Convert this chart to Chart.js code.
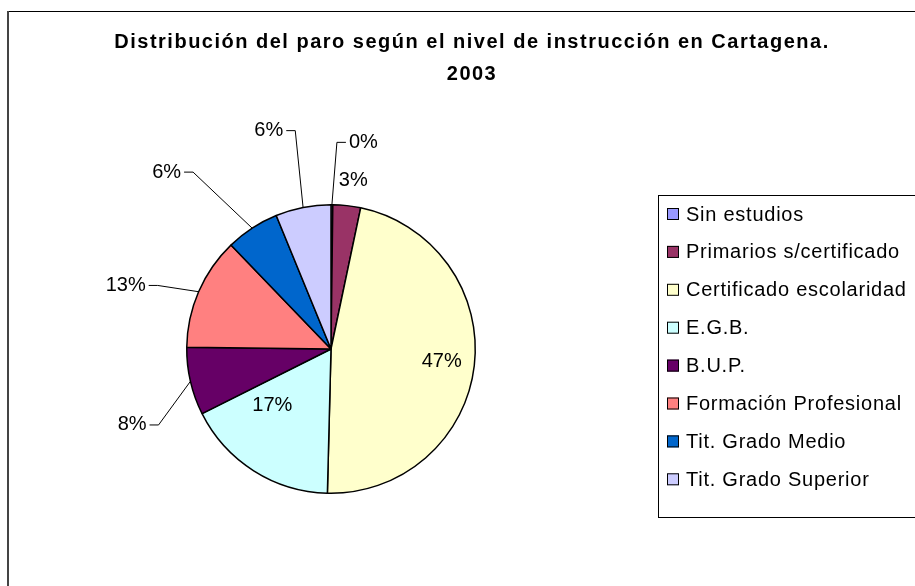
<!DOCTYPE html>
<html>
<head>
<meta charset="utf-8">
<script src="https://cdn.jsdelivr.net/npm/chart.js@4.4.0/dist/chart.umd.min.js"></script>
<style>
html, body { margin: 0; padding: 0; background: #fff; }
</style>
</head>
<body>
<canvas id="paroChart" width="915" height="586"></canvas>
<script>
var titleLines = ['Distribución del paro según el nivel de instrucción en Cartagena.', '2003'];
var niveles = ['Sin estudios', 'Primarios s/certificado', 'Certificado escolaridad', 'E.G.B.', 'B.U.P.', 'Formación Profesional', 'Tit. Grado Medio', 'Tit. Grado Superior'];
var porcentajes = [0.2, 3.1, 47.1, 17.2, 7.6, 12.6, 6.0, 6.2];
var colores = ['#9999FF', '#993366', '#FFFFCC', '#CCFFFF', '#660066', '#FF8080', '#0066CC', '#CCCCFF'];

// where each % label sits: angle (deg, clockwise from top) and distance as fraction of radius
var labelAngles = [8.9, 7.5, 96.5, 226.1, 249.1, 287.2, 317.1, 344.1];
var labelRadii = [1.45, 1.18, 0.772, 0.564, 1.476, 1.49, 1.674, 1.574];
var labelLeader = [true, false, false, false, true, true, true, true];

var FONT = '"Liberation Sans", Arial, sans-serif';

var decoPlugin = {
    id: 'deco',
    afterDraw: function(chart) {
        var ctx = chart.ctx;
        var meta = chart.getDatasetMeta(0);
        var total = porcentajes.reduce(function(a, b) { return a + b; }, 0);
        ctx.save();

        // frame (only top and left edges are visible)
        ctx.strokeStyle = '#000';
        ctx.lineWidth = 1;
        ctx.beginPath(); ctx.moveTo(7, 11.5); ctx.lineTo(915, 11.5); ctx.stroke();
        ctx.strokeStyle = '#444';
        ctx.lineWidth = 2;
        ctx.beginPath(); ctx.moveTo(8, 11); ctx.lineTo(8, 586); ctx.stroke();

        // title
        ctx.fillStyle = '#000';
        ctx.textAlign = 'center';
        ctx.textBaseline = 'middle';
        ctx.font = 'bold 20px ' + FONT;
        ctx.letterSpacing = '1.5px';
        ctx.fillText(titleLines[0], 472, 42);
        ctx.fillText(titleLines[1], 472, 74);
        ctx.letterSpacing = '0px';

        // percentage labels
        ctx.font = '20px ' + FONT;
        meta.data.forEach(function(arc, i) {
            var p = arc.getProps(['x', 'y', 'startAngle', 'endAngle', 'outerRadius'], true);
            var a = labelAngles[i] * Math.PI / 180;
            var lx = p.x + Math.sin(a) * p.outerRadius * labelRadii[i];
            var ly = p.y - Math.cos(a) * p.outerRadius * labelRadii[i];
            var txt = Math.round(porcentajes[i] / total * 100) + '%';
            ctx.fillStyle = '#000';
            ctx.fillText(txt, lx, ly);
            if (labelLeader[i]) {
                var mid = (p.startAngle + p.endAngle) / 2;
                var ax = p.x + Math.cos(mid) * p.outerRadius;
                var ay = p.y + Math.sin(mid) * p.outerRadius;
                var w = ctx.measureText(txt).width;
                var dir = lx < ax ? 1 : -1;
                var sx = lx + dir * (w / 2 + 3);
                var bx = sx + dir * 9;
                ctx.strokeStyle = '#000';
                ctx.lineWidth = 1;
                ctx.beginPath();
                ctx.moveTo(ax, ay);
                ctx.lineTo(bx, ly);
                ctx.lineTo(sx, ly);
                ctx.stroke();
            }
        });

        // legend box
        ctx.strokeStyle = '#000';
        ctx.lineWidth = 1;
        ctx.strokeRect(658.5, 195.5, 300, 322);
        ctx.textAlign = 'left';
        ctx.font = '20px ' + FONT;
        ctx.letterSpacing = '0.75px';
        niveles.forEach(function(name, i) {
            var y = 214 + i * 37.9;
            ctx.fillStyle = colores[i];
            ctx.fillRect(667, y - 6, 12, 12);
            ctx.strokeStyle = '#000';
            ctx.strokeRect(667.5, y - 5.5, 11, 11);
            ctx.fillStyle = '#000';
            ctx.fillText(name, 686, y + 1);
        });
        ctx.letterSpacing = '0px';
        ctx.restore();
    }
};

var ctx = document.getElementById('paroChart').getContext('2d');
var paroChart = new Chart(ctx, {
    type: 'pie',
    data: {
        labels: niveles,
        datasets: [{
            data: porcentajes,
            backgroundColor: colores,
            borderColor: '#000',
            borderWidth: 1.5
        }]
    },
    options: {
        responsive: false,
        animation: false,
        layout: { padding: { top: 204, bottom: 92, left: 10, right: 263 } },
        plugins: {
            legend: { display: false },
            title: { display: false },
            tooltip: { enabled: false }
        }
    },
    plugins: [decoPlugin]
});
</script>
</body>
</html>
